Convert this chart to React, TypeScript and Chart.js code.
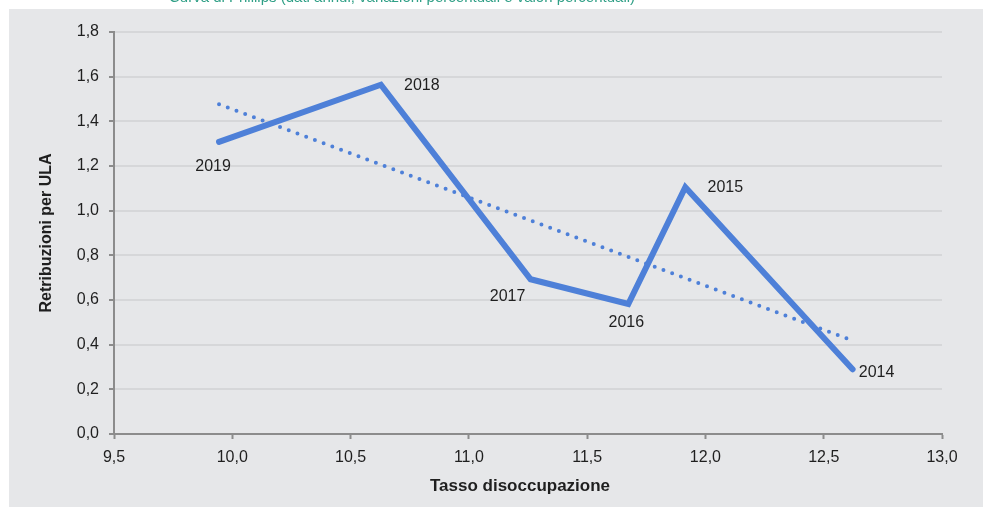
import React, { useEffect, useLayoutEffect, useRef } from 'react';
import { Chart, registerables } from 'chart.js';

Chart.register(...registerables);

// ---- data ----
const years = ['2019', '2018', '2017', '2016', '2015', '2014'];
const unemploymentRate = [9.944, 10.628, 11.261, 11.674, 11.915, 12.622];
const wagesPerULA = [1.308, 1.564, 0.693, 0.582, 1.105, 0.29];

// linear trend line end points (as drawn in the reference)
const trendX = [9.944, 12.622];
const trendY = [1.476, 0.418];

// axis ranges / ticks
const xMin = 9.5;
const xMax = 13.0;
const xStep = 0.5;
const yMin = 0;
const yMax = 1.8;
const yStep = 0.2;

const xTitle = 'Tasso disoccupazione';
const yTitle = 'Retribuzioni per ULA';
const pageTitle = 'Curva di Phillips (dati annui; variazioni percentuali e valori percentuali)';

// label placement (pixel offsets from each point)
const labelOffsets: [number, number][] = [
  [-6, 25],
  [41, 1],
  [-23, 17],
  [-2, 19],
  [40, 0],
  [24, 3],
];

const FAMILY = '"Liberation Sans", Arial, sans-serif';
const BLUE = '#4e80d8';
const AXIS = '#8c8c8c';
const TEXT = '#1f1f1f';
const PANEL = '#e6e7e9';
const PAGE_BG = `linear-gradient(#ffffff 0 9px, transparent 9px), linear-gradient(90deg, #ffffff 0 9px, ${PANEL} 9px)`;

const fmt = (v: any) => Number(v).toFixed(1).replace('.', ',');

const labelPlugin = {
  id: 'yearLabels',
  afterDatasetsDraw(chart: any) {
    const meta = chart.getDatasetMeta(0);
    const ctx = chart.ctx;
    ctx.save();
    ctx.font = `16px ${FAMILY}`;
    ctx.fillStyle = TEXT;
    ctx.textAlign = 'center';
    ctx.textBaseline = 'middle';
    meta.data.forEach((pt: any, i: number) => {
      const [dx, dy] = labelOffsets[i];
      ctx.fillText(years[i], pt.x + dx, pt.y + dy);
    });
    // x axis title (centred slightly left of the plot centre, as in the reference)
    const a = chart.chartArea;
    ctx.font = `bold 17px ${FAMILY}`;
    ctx.fillText(xTitle, (a.left + a.right) / 2 - 8, a.bottom + 52);
    ctx.restore();
  },
};

export default function App() {
  const ref = useRef<HTMLCanvasElement | null>(null);

  useLayoutEffect(() => {
    document.documentElement.style.background = PAGE_BG;
  }, []);

  useEffect(() => {
    if (!ref.current) return;
    const chart = new Chart(ref.current, {
      type: 'line',
      data: {
        datasets: [
          {
            data: unemploymentRate.map((x, i) => ({ x, y: wagesPerULA[i] })),
            borderColor: BLUE,
            borderWidth: 6,
            borderCapStyle: 'round',
            borderJoinStyle: 'miter',
            pointRadius: 0,
            tension: 0,
            fill: false,
          },
          {
            data: trendX.map((x, i) => ({ x, y: trendY[i] })),
            borderColor: BLUE,
            borderWidth: 4,
            borderDash: [0, 9.3],
            borderCapStyle: 'round',
            pointRadius: 0,
            tension: 0,
            fill: false,
          },
        ],
      },
      options: {
        animation: false,
        responsive: false,
        layout: { padding: { left: 0, top: 23, right: 41, bottom: 0 } },
        plugins: { legend: { display: false }, tooltip: { enabled: false } },
        scales: {
          x: {
            type: 'linear',
            min: xMin,
            max: xMax,
            afterFit: (s: any) => {
              s.height = 73;
            },
            ticks: {
              stepSize: xStep,
              callback: fmt,
              font: { family: FAMILY, size: 16 },
              color: TEXT,
              padding: 9,
              maxRotation: 0,
              autoSkip: false,
            },
            grid: {
              drawOnChartArea: false,
              drawTicks: true,
              tickLength: 5,
              tickColor: AXIS,
              tickWidth: 2,
            },
            border: { color: AXIS, width: 2 },
            title: { display: false },
          },
          y: {
            min: yMin,
            max: yMax,
            afterFit: (s: any) => {
              s.width = 105;
            },
            ticks: {
              stepSize: yStep,
              callback: fmt,
              font: { family: FAMILY, size: 16 },
              color: TEXT,
              padding: 10,
            },
            grid: {
              color: '#d6d7d9',
              lineWidth: 2,
              tickLength: 5,
              tickColor: AXIS,
              tickWidth: 2,
            },
            border: { color: AXIS, width: 2 },
            title: {
              display: true,
              text: yTitle,
              font: { family: FAMILY, size: 16, weight: 'bold' },
              color: TEXT,
              padding: { top: 28, bottom: 0 },
            },
          },
        },
      } as any,
      plugins: [labelPlugin],
    });
    return () => chart.destroy();
  }, []);

  return (
    <>
      <style>{`html{background:${PAGE_BG};}`}</style>
      {/* in-flow spacer so the page keeps exactly the window size */}
      <div style={{ height: 491 }} />
      <div
        style={{
          position: 'fixed',
          left: 0,
          top: 0,
          width: 983,
          height: 507,
          overflow: 'hidden',
        }}
      >
        <div
          style={{
            position: 'absolute',
            left: 169,
            top: -13,
            font: `15px ${FAMILY}`,
            lineHeight: '20px',
            color: '#2f9f86',
            whiteSpace: 'nowrap',
          }}
        >
          {pageTitle}
        </div>
        <div
          style={{
            position: 'absolute',
            left: 9,
            top: 9,
            width: 974,
            height: 498,
            background: PANEL,
          }}
        >
          <canvas ref={ref} width={974} height={498} style={{ display: 'block' }} />
        </div>
      </div>
    </>
  );
}
